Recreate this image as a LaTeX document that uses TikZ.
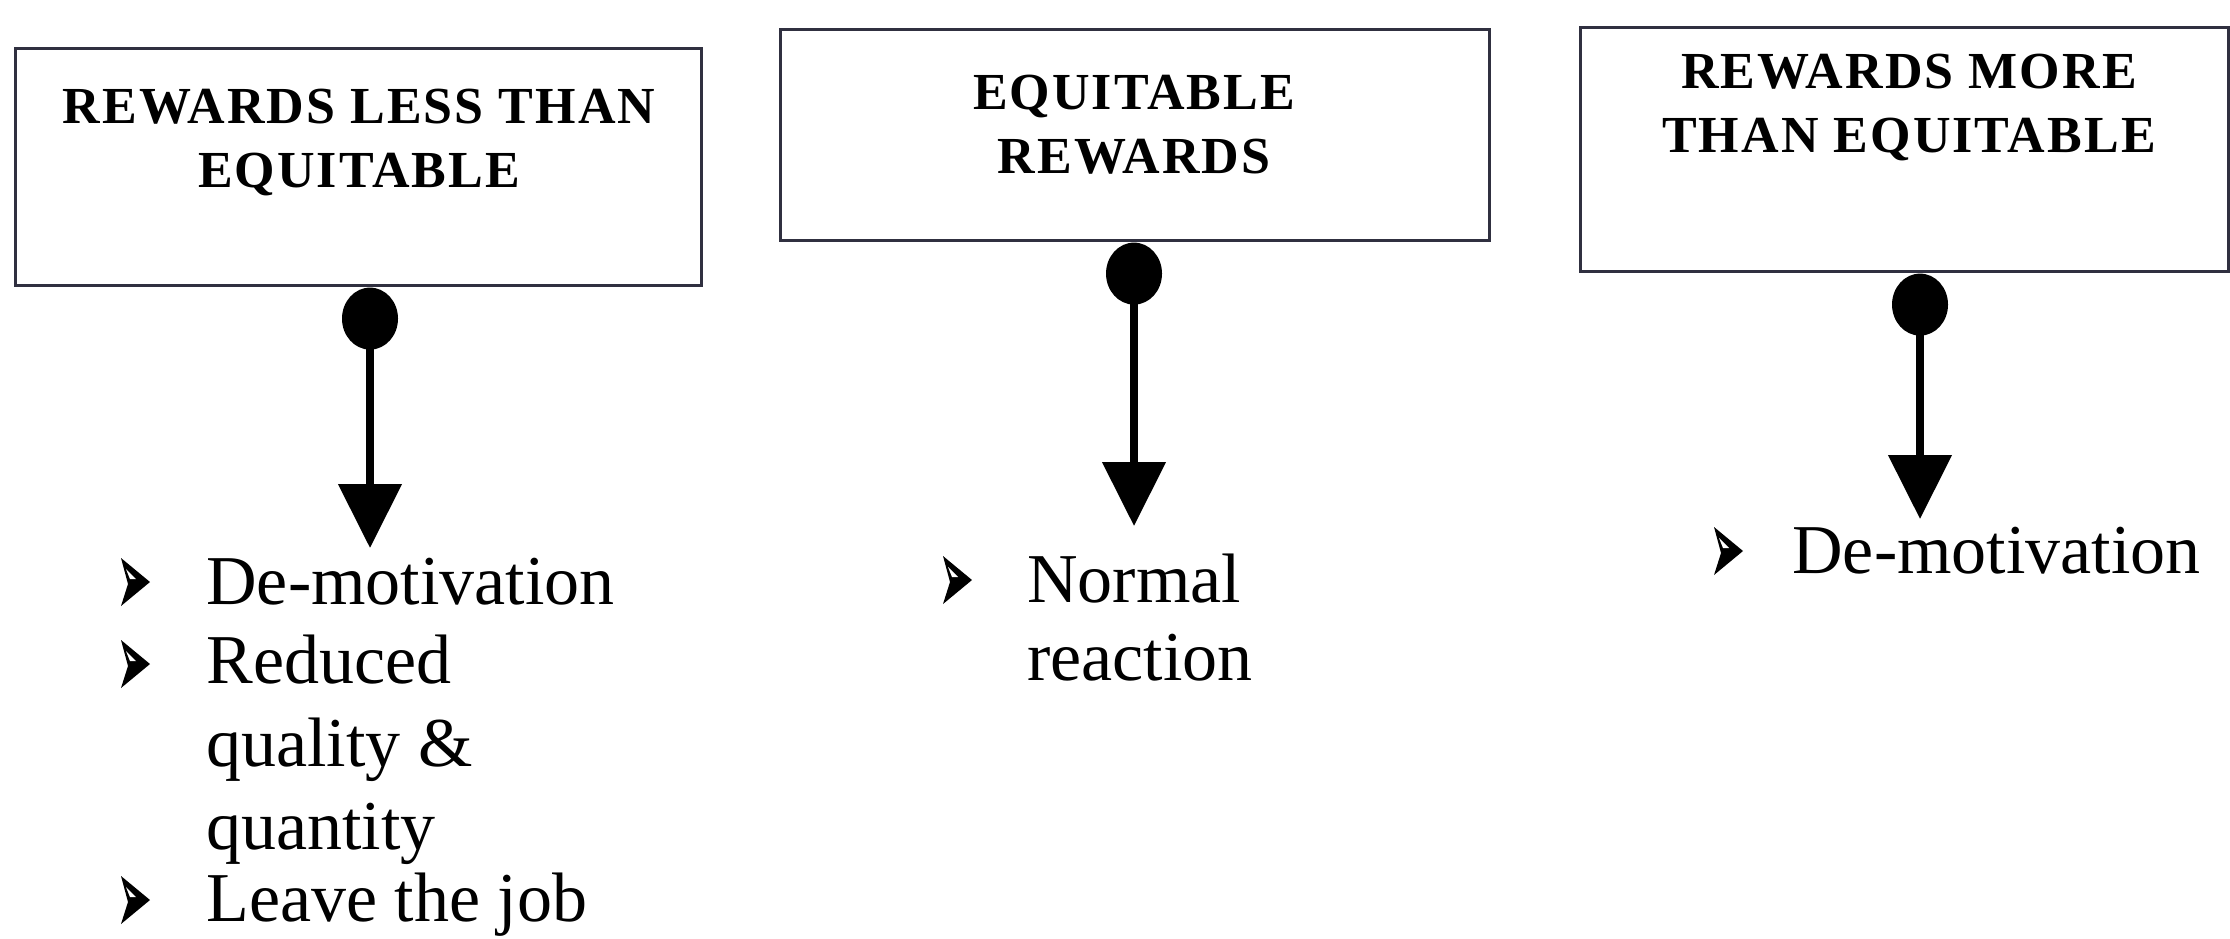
\documentclass[tikz,border=0pt]{standalone}
\usepackage{fontspec}
\setmainfont{Liberation Serif}
\newfontfamily\headfont[LetterSpace=4]{Liberation Serif}
\usetikzlibrary{arrows.meta,shapes.geometric}
\definecolor{boxline}{RGB}{48,48,64}

\begin{document}
\begin{tikzpicture}[x=0.5pt,y=-0.5pt,
  frame/.style={draw=boxline, line width=1.6pt, anchor=north west, inner sep=0pt},
  head/.style={font=\headfont\bfseries\fontsize{26}{32}\selectfont, align=center, anchor=base, inner sep=0pt},
  knob/.style={ellipse, fill=black, inner sep=0pt, minimum width=28pt, minimum height=31pt, anchor=north},
  shaft/.style={line width=4pt, -{Triangle[length=32pt,width=31pt]}},
  item/.style={font=\fontsize{35}{41.5}\selectfont, align=left, anchor=base west, inner sep=0pt},
  pointer/.pic={
    \fill (0,-24) -- (29,0) -- (0,24) -- (7,2) -- cycle;
    \fill[white] (5,-13) -- (15,-3) -- (9,-3) -- cycle;
  }
]
\useasboundingbox (0,0) rectangle (2230,938);

% three outcome boxes
\node[frame, minimum width=343pt, minimum height=118.5pt] (b1) at (14,47) {};
\node[frame, minimum width=354.5pt, minimum height=105.5pt] (b2) at (779,28) {};
\node[frame, minimum width=324pt, minimum height=122pt] (b3) at (1579,26) {};

% box titles (anchored at the baseline of their last line)
\node[head] (h1) at (359,187) {REWARDS LESS THAN\\EQUITABLE};
\node[head] (h2) at (1134,173) {EQUITABLE\\REWARDS};
\node[head] (h3) at (1909,152) {REWARDS MORE\\THAN EQUITABLE};

% knobs hanging under the boxes
\node[knob] (k1) at (370,0 |- b1.south) {};
\node[knob] (k2) at (1134,0 |- b2.south) {};
\node[knob] (k3) at (1920,0 |- b3.south) {};

\coordinate (t1) at (370,548);
\coordinate (t2) at (1134,526);
\coordinate (t3) at (1920,519);

\draw[shaft] (k1.center) -- (t1);
\draw[shaft] (k2.center) -- (t2);
\draw[shaft] (k3.center) -- (t3);

% consequences
\pic (p11) at (121,582) {pointer};
\node[item] (i11) at (206,604) {De-motivation};
\pic (p12) at (121,664) {pointer};
\node[item] (i12) at (206,849) {Reduced\\quality \&\\quantity};
\pic (p13) at (121,900) {pointer};
\node[item] (i13) at (206,921) {Leave the job};

\pic (p21) at (943,580) {pointer};
\node[item, font=\fontsize{35}{39}\selectfont] (i21) at (1027,680) {Normal\\reaction};

\pic (p31) at (1714,551) {pointer};
\node[item] (i31) at (1792,573) {De-motivation};
\end{tikzpicture}
\end{document}
